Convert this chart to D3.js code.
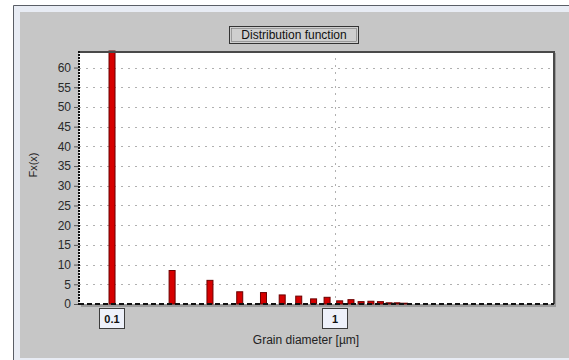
<!DOCTYPE html>
<html>
<head>
<meta charset="utf-8">
<script src="https://cdn.jsdelivr.net/npm/d3@7"></script>
<style>
  html, body { margin: 0; padding: 0; background: #ffffff; }
  svg { display: block; font-family: "Liberation Sans", Arial, sans-serif; }
</style>
</head>
<body>
<svg id="chart" width="569" height="360"></svg>
<script>
// Grain size classes (µm) and their distribution values
const diameters = [0.1, 0.186, 0.275, 0.374, 0.478, 0.58, 0.688, 0.802, 0.922,
                   1.05, 1.18, 1.31, 1.45, 1.6, 1.75, 1.9, 2.05];
const frequencies = [64.2, 8.5, 6.0, 3.1, 2.9, 2.3, 2.0, 1.3, 1.7,
                     0.8, 1.1, 0.6, 0.7, 0.6, 0.3, 0.3, 0.2];
const yTicks = [0, 5, 10, 15, 20, 25, 30, 35, 40, 45, 50, 55, 60];
const xTicks = [0.1, 1];
const xTickLabels = ["0.1", "1"];
const titleText = "Distribution function";
const xTitle = "Grain diameter [µm]";
const yTitle = "Fx(x)";

const svg = d3.select("#chart");

// window frame and grey panel
svg.append("rect").attr("x", 13).attr("y", 5).attr("width", 556).attr("height", 355)
  .attr("fill", "#e8ecf4");
svg.append("path").attr("d", "M13.5,360V5.5H569").attr("fill", "none")
  .attr("stroke", "#5a5e66").attr("stroke-width", 1);
svg.append("rect").attr("x", 20).attr("y", 12).attr("width", 549).attr("height", 346)
  .attr("fill", "#c6c6c6");

const plot = { left: 79, right: 553, top: 51, bottom: 304 };

const x = d3.scaleLog().domain([0.0711, 9.51]).range([plot.left, plot.right]);
const y = d3.scaleLinear().domain([0, 64.2]).range([plot.bottom, plot.top]);

// plot background with a soft shadow
svg.append("rect").attr("x", plot.left + 2).attr("y", plot.top + 2)
  .attr("width", plot.right - plot.left + 1).attr("height", plot.bottom - plot.top + 1)
  .attr("fill", "#9a9a9a");
svg.append("rect").attr("x", plot.left).attr("y", plot.top)
  .attr("width", plot.right - plot.left).attr("height", plot.bottom - plot.top)
  .attr("fill", "#ffffff");

// horizontal grid
svg.append("g").selectAll("line").data(yTicks.filter(d => d > 0)).join("line")
  .attr("x1", plot.left).attr("x2", plot.right)
  .attr("y1", d => Math.round(y(d)) + 0.5).attr("y2", d => Math.round(y(d)) + 0.5)
  .attr("stroke", "#b0b0b0").attr("stroke-width", 1).attr("stroke-dasharray", "2,5");

// vertical grid at decades
svg.append("g").selectAll("line").data(xTicks).join("line")
  .attr("x1", d => Math.round(x(d)) + 0.5).attr("x2", d => Math.round(x(d)) + 0.5)
  .attr("y1", plot.top).attr("y2", plot.bottom)
  .attr("stroke", "#b0b0b0").attr("stroke-width", 1).attr("stroke-dasharray", "2,5");

// bars
const barW = 6;
svg.append("g").selectAll("rect").data(diameters).join("rect")
  .attr("x", d => x(d) - barW / 2)
  .attr("y", (d, i) => y(frequencies[i]))
  .attr("width", barW)
  .attr("height", (d, i) => y(0) - y(frequencies[i]))
  .attr("fill", "#d60000")
  .attr("stroke", "#6a0000").attr("stroke-width", 1);

// plot border: dark top/right, dotted left, dashed bottom
svg.append("path")
  .attr("d", `M${plot.left},${plot.top + 1}H${plot.right + 1}V${plot.bottom}`)
  .attr("fill", "none").attr("stroke", "#4a4a4a").attr("stroke-width", 2);
svg.append("line").attr("x1", plot.left).attr("x2", plot.left)
  .attr("y1", plot.top).attr("y2", plot.bottom + 1)
  .attr("stroke", "#111").attr("stroke-width", 2).attr("stroke-dasharray", "2,1");
svg.append("line").attr("x1", plot.left).attr("x2", plot.right + 1)
  .attr("y1", plot.bottom).attr("y2", plot.bottom)
  .attr("stroke", "#111").attr("stroke-width", 2).attr("stroke-dasharray", "5,3");

// y axis
const yAxis = d3.axisLeft(y).tickValues(yTicks).tickSize(4).tickPadding(3);
const gy = svg.append("g").attr("transform", `translate(${plot.left - 1},0)`).call(yAxis);
gy.select(".domain").remove();
gy.selectAll(".tick line").attr("stroke", "#555");
gy.selectAll(".tick text").attr("fill", "#2a2a2a").attr("font-size", 12)
  .attr("font-family", "'Liberation Sans', Arial, sans-serif");

// x tick labels in boxes
const xt = svg.append("g").selectAll("g").data(xTicks).join("g")
  .attr("transform", d => `translate(${Math.round(x(d))},308)`);
xt.append("rect").attr("x", -12.5).attr("y", 0.5).attr("width", 25).attr("height", 20)
  .attr("fill", "#eef1fa").attr("stroke", "#3c3c3c").attr("stroke-width", 1);
xt.append("text").attr("x", 0).attr("y", 15).attr("text-anchor", "middle")
  .attr("font-size", 11).attr("font-weight", "bold").attr("fill", "#111")
  .text((d, i) => xTickLabels[i]);

// title box
const title = svg.append("g").attr("transform", "translate(294,35)");
title.append("rect").attr("x", -64.5).attr("y", -8.5).attr("width", 129).attr("height", 17)
  .attr("fill", "#cfcfcf").attr("stroke", "#333").attr("stroke-width", 1);
title.append("rect").attr("x", -62.5).attr("y", -6.5).attr("width", 125).attr("height", 13)
  .attr("fill", "none").attr("stroke", "#777").attr("stroke-width", 0.6);
title.append("text").attr("x", 0).attr("y", 4).attr("text-anchor", "middle")
  .attr("font-size", 12).attr("fill", "#111").text(titleText);

// axis titles
svg.append("text").attr("x", 306).attr("y", 344).attr("text-anchor", "middle")
  .attr("font-size", 12).attr("fill", "#222").text(xTitle);
svg.append("text").attr("transform", "translate(37,165) rotate(-90)")
  .attr("text-anchor", "middle").attr("font-size", 11).attr("fill", "#222").text(yTitle);
</script>
</body>
</html>
